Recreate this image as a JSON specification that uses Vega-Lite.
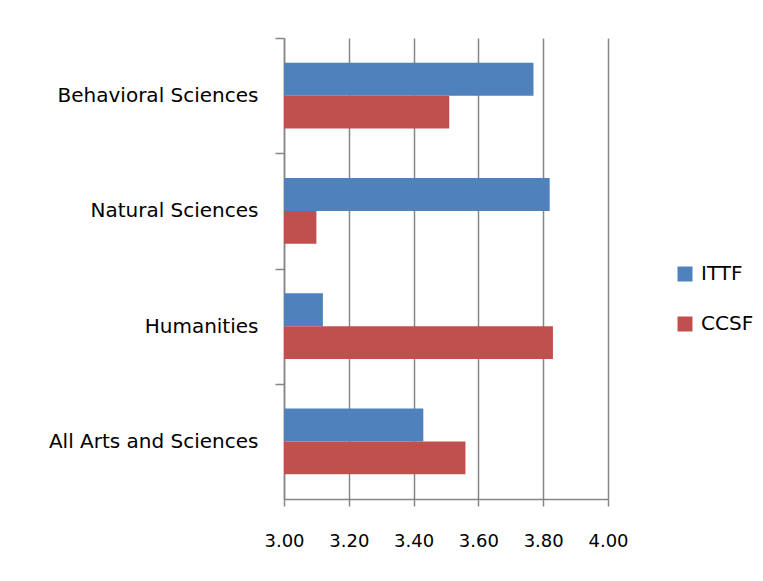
{
  "$schema": "https://vega.github.io/schema/vega-lite/v6.json",
  "autosize": {"type": "none"},
  "padding": {"left": 284, "top": 38, "right": 155, "bottom": 82},
  "width": 324,
  "height": 461,
  "background": "white",
  "config": {
    "font": "DejaVu Sans",
    "view": {"stroke": null}
  },
  "data": {
    "values": [
      {"category": "Behavioral Sciences", "series": "ITTF", "value": 3.77},
      {"category": "Behavioral Sciences", "series": "CCSF", "value": 3.51},
      {"category": "Natural Sciences", "series": "ITTF", "value": 3.82},
      {"category": "Natural Sciences", "series": "CCSF", "value": 3.10},
      {"category": "Humanities", "series": "ITTF", "value": 3.12},
      {"category": "Humanities", "series": "CCSF", "value": 3.83},
      {"category": "All Arts and Sciences", "series": "ITTF", "value": 3.43},
      {"category": "All Arts and Sciences", "series": "CCSF", "value": 3.56}
    ]
  },
  "mark": {"type": "bar"},
  "encoding": {
    "y": {
      "field": "category",
      "type": "nominal",
      "sort": ["Behavioral Sciences", "Natural Sciences", "Humanities", "All Arts and Sciences"],
      "scale": {"paddingInner": 0.431, "paddingOuter": 0.2155},
      "axis": {
        "title": null,
        "domainColor": "#868686",
        "domainWidth": 1.5,
        "tickColor": "#868686",
        "tickWidth": 1.5,
        "tickSize": 9,
        "tickOffset": -57.6,
        "labelOffset": 57.6,
        "labelPadding": 17,
        "labelLimit": 400,
        "labelFont": "DejaVu Sans",
        "labelFontSize": 20,
        "labelColor": "#000000"
      }
    },
    "yOffset": {
      "field": "series",
      "type": "nominal",
      "sort": ["ITTF", "CCSF"],
      "scale": {"paddingInner": 0, "paddingOuter": 0}
    },
    "x": {
      "field": "value",
      "type": "quantitative",
      "scale": {"domain": [3, 4], "zero": false, "nice": false},
      "axis": {
        "title": null,
        "values": [3, 3.2, 3.4, 3.6, 3.8, 4],
        "format": ".2f",
        "grid": true,
        "gridColor": "#868686",
        "gridWidth": 1.5,
        "domainColor": "#868686",
        "domainWidth": 1.5,
        "tickColor": "#868686",
        "tickWidth": 1.5,
        "tickSize": 7,
        "labelPadding": 26,
        "labelFlush": false,
        "labelOverlap": false,
        "labelFont": "DejaVu Sans",
        "labelFontSize": 18,
        "labelColor": "#000000"
      }
    },
    "x2": {"datum": 3},
    "color": {
      "field": "series",
      "type": "nominal",
      "sort": ["ITTF", "CCSF"],
      "scale": {"domain": ["ITTF", "CCSF"], "range": ["#4F81BD", "#C0504D"]},
      "legend": {
        "title": null,
        "orient": "none",
        "legendX": 391,
        "legendY": 226,
        "symbolType": "square",
        "symbolSize": 225,
        "symbolStrokeWidth": 0,
        "labelFont": "DejaVu Sans",
        "labelFontSize": 20,
        "labelColor": "#000000",
        "labelOffset": 6,
        "rowPadding": 30,
        "padding": 0
      }
    }
  }
}
